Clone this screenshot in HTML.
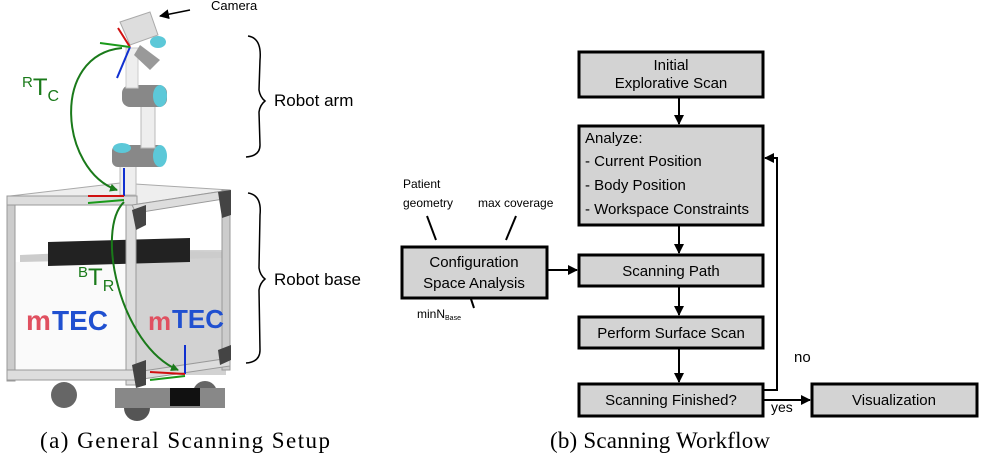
<!DOCTYPE html>
<html><head><meta charset="utf-8"><style>
body{margin:0;background:#fff}
svg{display:block}
text{font-family:"Liberation Sans","DejaVu Sans",sans-serif}
</style></head><body>
<svg width="983" height="459" viewBox="0 0 983 459" xmlns="http://www.w3.org/2000/svg">
<defs>
<marker id="a" markerWidth="10" markerHeight="10" refX="9" refY="5" orient="auto" markerUnits="userSpaceOnUse"><path d="M0,0 L10,5 L0,10 z" fill="#000"/></marker>
<marker id="g" markerWidth="8" markerHeight="8" refX="7" refY="4" orient="auto" markerUnits="userSpaceOnUse"><path d="M0,0 L8,4 L0,8 z" fill="#1a7a1a"/></marker>
</defs>
<g>
<rect x="15" y="262" width="115" height="113" fill="#fafafa"/>
<rect x="134" y="250" width="92" height="125" fill="#d2d2d2"/>
<polygon points="20,255 134,250 224,252 224,258 20,262" fill="#ccc"/>
<polygon points="48,242 190,238 190,262 48,266" fill="#222"/>
<polygon points="10,196 120,183 230,190 132,205" fill="#eee" stroke="#aaa"/>
<rect x="7" y="196" width="8" height="185" fill="#ccc" stroke="#999"/>
<rect x="126" y="205" width="10" height="180" fill="#ddd" stroke="#999"/>
<rect x="222" y="190" width="8" height="180" fill="#ccc" stroke="#999"/>
<rect x="7" y="370" width="130" height="10" fill="#ddd" stroke="#999"/>
<rect x="7" y="196" width="130" height="9" fill="#ddd" stroke="#999"/>
<polygon points="132,205 230,190 230,198 136,213" fill="#ddd" stroke="#999"/>
<polygon points="136,372 230,358 230,366 136,380" fill="#ddd" stroke="#999"/>
<polygon points="132,210 146,205 146,225 136,230" fill="#444"/>
<polygon points="218,192 231,190 231,215 222,218" fill="#444"/>
<polygon points="132,365 146,360 146,385 136,388" fill="#444"/>
<polygon points="218,350 231,345 231,360 220,365" fill="#444"/>
<circle cx="64" cy="395" r="13" fill="#666"/>
<circle cx="137" cy="408" r="13" fill="#555"/>
<circle cx="205" cy="393" r="12" fill="#666"/>
<rect x="115" y="388" width="110" height="20" fill="#888"/>
<rect x="170" y="388" width="30" height="18" fill="#111"/>
<text x="26" y="330" font-size="28" font-weight="bold" fill="#e05060">m</text>
<text x="52" y="330" font-size="28" font-weight="bold" fill="#2050d0">TEC</text>
<text x="148" y="330" font-size="26" font-weight="bold" fill="#e05060">m</text>
<text x="172" y="328" font-size="26" font-weight="bold" fill="#2050d0">TEC</text>
<rect x="120" y="150" width="16" height="45" fill="#eee" stroke="#bbb"/>
<rect x="112" y="145" width="52" height="22" rx="6" fill="#888"/>
<ellipse cx="160" cy="156" rx="7" ry="11" fill="#5cc8d8"/>
<ellipse cx="122" cy="148" rx="9" ry="5" fill="#5cc8d8"/>
<rect x="141" y="100" width="14" height="48" fill="#eee" stroke="#bbb"/>
<rect x="122" y="85" width="45" height="22" rx="8" fill="#888"/>
<ellipse cx="160" cy="96" rx="7" ry="11" fill="#5cc8d8"/>
<rect x="126" y="48" width="12" height="40" fill="#eee" stroke="#ccc"/>
<polygon points="140,45 160,60 150,70 134,55" fill="#999"/>
<ellipse cx="158" cy="42" rx="8" ry="6" fill="#5cc8d8"/>
<polygon points="120,22 150,12 158,35 130,45" fill="#ddd" stroke="#aaa"/>
<g stroke-width="2">
<line x1="130" y1="47" x2="117" y2="78" stroke="#1030d0"/><line x1="130" y1="47" x2="118" y2="28" stroke="#d01010"/><line x1="130" y1="47" x2="100" y2="43" stroke="#1a9a1a"/>
<line x1="124" y1="196" x2="124" y2="168" stroke="#1030d0"/><line x1="124" y1="196" x2="88" y2="196" stroke="#d01010"/><line x1="124" y1="200" x2="88" y2="203" stroke="#1a9a1a"/>
<line x1="185" y1="374" x2="185" y2="345" stroke="#1030d0"/><line x1="185" y1="374" x2="150" y2="372" stroke="#d01010"/><line x1="185" y1="376" x2="150" y2="380" stroke="#1a9a1a"/>
</g>
<path d="M122,48 C50,55 60,170 117,190" fill="none" stroke="#1a7a1a" stroke-width="2" marker-end="url(#g)"/>
<path d="M124,202 C95,230 120,345 178,370" fill="none" stroke="#1a7a1a" stroke-width="2" marker-end="url(#g)"/>
<text x="22" y="95" font-size="24" fill="#1a7a1a"><tspan font-size="15" dy="-8">R</tspan><tspan dy="8">T</tspan><tspan font-size="16" dy="6">C</tspan></text>
<text x="78" y="285" font-size="24" fill="#1a7a1a"><tspan font-size="15" dy="-8">B</tspan><tspan dy="8">T</tspan><tspan font-size="16" dy="6">R</tspan></text>
<line x1="190" y1="10" x2="160" y2="16" stroke="#000" stroke-width="1.5" marker-end="url(#a)"/>
<text x="211" y="10" font-size="13">Camera</text>
<path d="M248,36 Q262,38 260,60 L259,90 Q260,97 265,101 Q260,105 259,112 L260,145 Q260,156 246,157" fill="none" stroke="#000" stroke-width="1.5"/>
<text x="274" y="106" font-size="17">Robot arm</text>
<path d="M248,193 Q262,195 260,215 L259,268 Q260,275 265,279 Q260,283 259,290 L260,350 Q260,362 246,363" fill="none" stroke="#000" stroke-width="1.5"/>
<text x="274" y="285" font-size="17">Robot base</text>
</g>
<text x="40" y="448" font-size="23" textLength="290" lengthAdjust="spacing" style="font-family:'Liberation Serif',serif">(a) General Scanning Setup</text>
<text x="550" y="448" font-size="23" textLength="220" lengthAdjust="spacing" style="font-family:'Liberation Serif',serif">(b) Scanning Workflow</text>
<g stroke="#000" stroke-width="3" fill="#d3d3d3">
<rect x="579" y="52" width="184" height="45"/>
<rect x="579" y="126" width="184" height="99"/>
<rect x="579" y="255" width="184" height="31"/>
<rect x="579" y="317" width="184" height="31"/>
<rect x="579" y="384" width="184" height="32"/>
<rect x="812" y="384" width="165" height="32"/>
<rect x="402" y="247" width="145" height="51"/>
</g>
<g stroke="#000" stroke-width="2" fill="none">
<line x1="679" y1="97" x2="679" y2="124" marker-end="url(#a)"/>
<line x1="679" y1="225" x2="679" y2="253" marker-end="url(#a)"/>
<line x1="679" y1="286" x2="679" y2="315" marker-end="url(#a)"/>
<line x1="679" y1="348" x2="679" y2="382" marker-end="url(#a)"/>
<line x1="548" y1="270" x2="577" y2="270" marker-end="url(#a)"/>
<line x1="763" y1="400" x2="810" y2="400" marker-end="url(#a)"/>
<polyline points="764,390 777,390 777,158 765,158" marker-end="url(#a)"/>
<line x1="427" y1="216" x2="436" y2="240"/>
<line x1="516" y1="216" x2="506" y2="240"/>
<line x1="471" y1="299" x2="474" y2="308"/>
</g>
<g font-size="15" text-anchor="middle" fill="#000">
<text x="671" y="70">Initial</text>
<text x="671" y="88">Explorative Scan</text>
<text x="671" y="276">Scanning Path</text>
<text x="671" y="338">Perform Surface Scan</text>
<text x="671" y="405">Scanning Finished?</text>
<text x="894" y="405">Visualization</text>
<text x="474" y="267">Configuration</text>
<text x="474" y="288">Space Analysis</text>
</g>
<g font-size="15" fill="#000">
<text x="585" y="143">Analyze:</text>
<text x="585" y="166">- Current Position</text>
<text x="585" y="190">- Body Position</text>
<text x="585" y="214">- Workspace Constraints</text>
<text x="794" y="362">no</text>
<text x="771" y="412" font-size="14">yes</text>
</g>
<g font-size="12" fill="#000">
<text x="403" y="188">Patient</text>
<text x="403" y="207">geometry</text>
<text x="478" y="207">max coverage</text>
<text x="417" y="318">minN<tspan font-size="7" dy="2">Base</tspan></text>
</g>
</svg>
</body></html>
